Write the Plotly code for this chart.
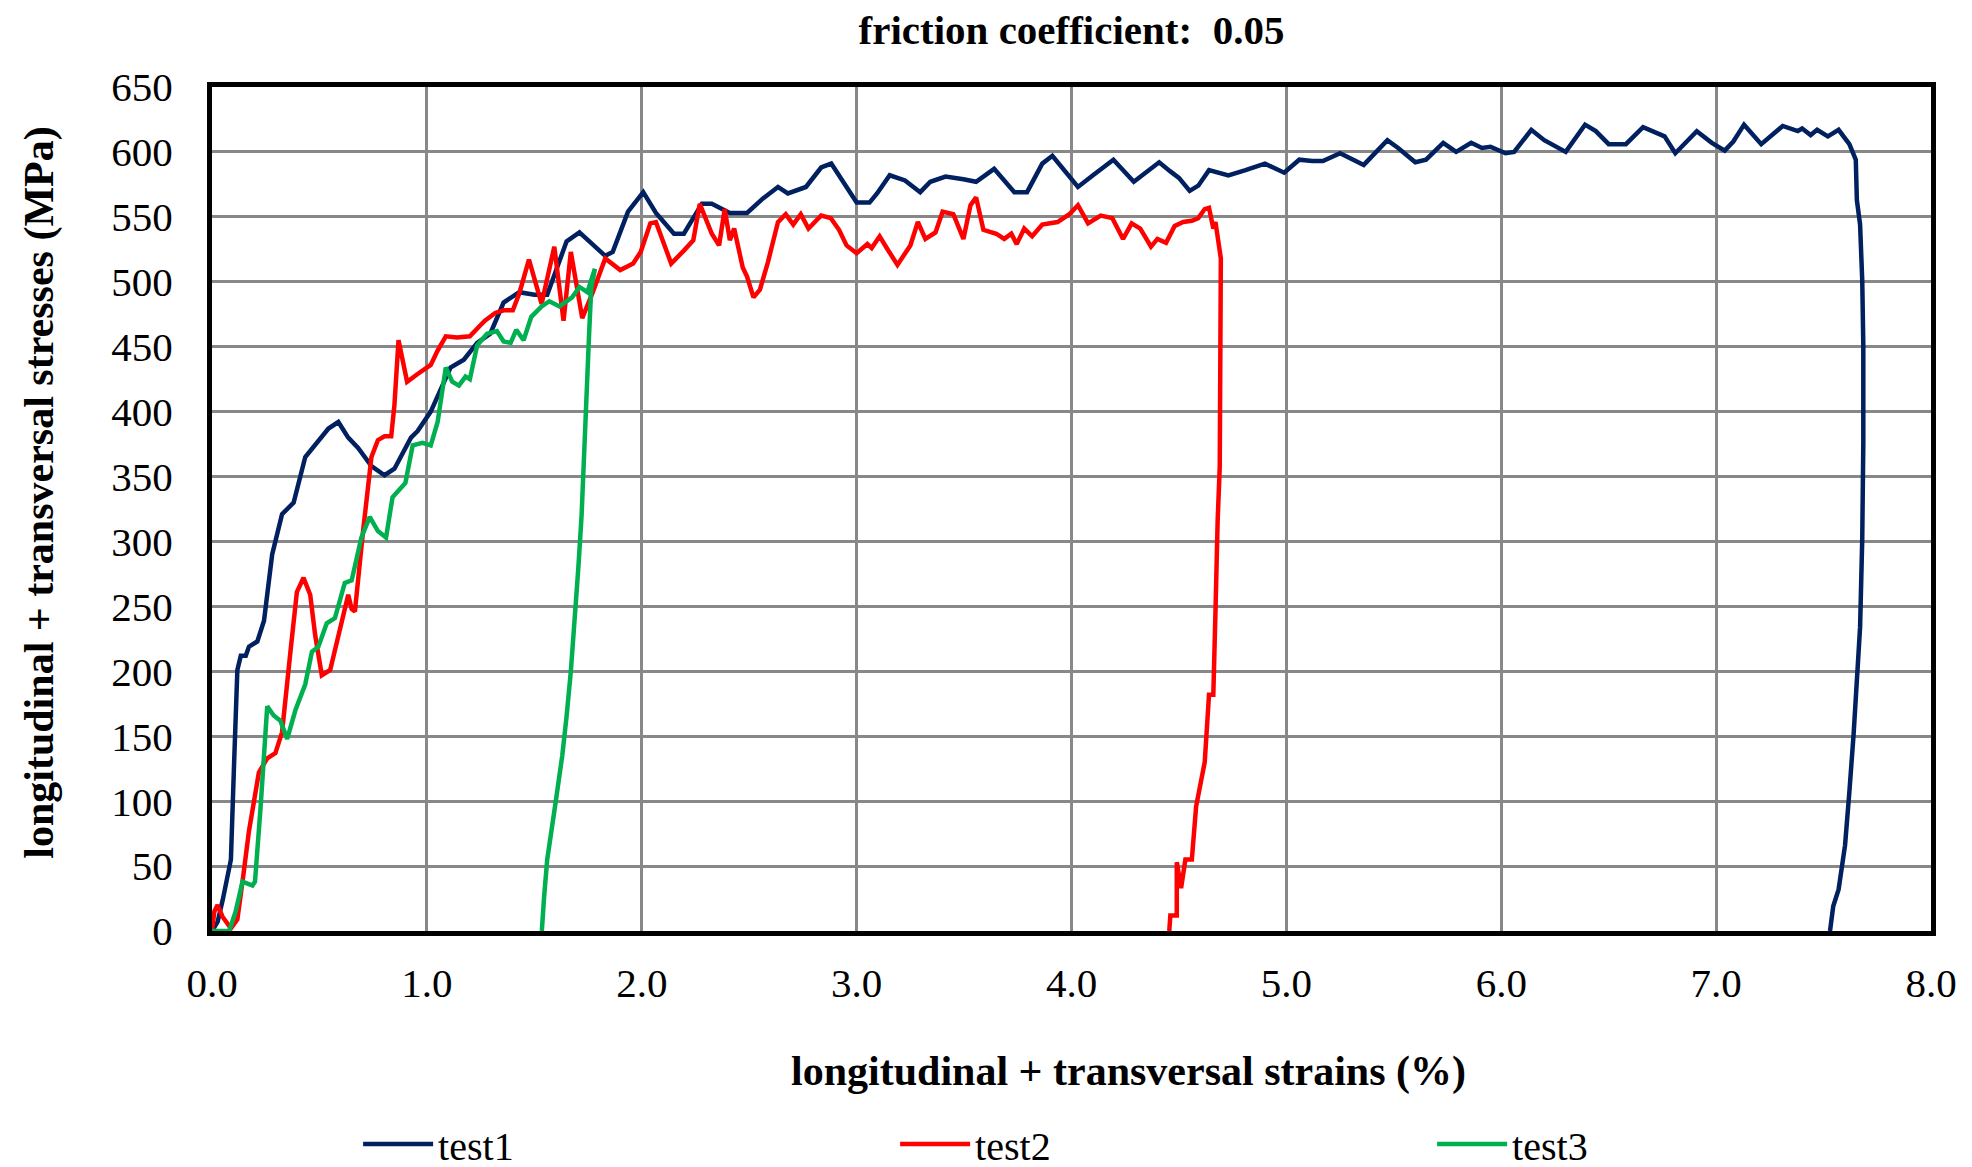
import plotly.graph_objects as go

# ---- data ----
test1_x = [0, 0.026, 0.05, 0.088, 0.103, 0.118, 0.134, 0.157, 0.172, 0.211, 0.242, 0.28, 0.326, 0.38, 0.434,
           0.48, 0.542, 0.588, 0.634, 0.68, 0.742, 0.803, 0.849, 0.926, 0.957, 1.018, 1.065, 1.11, 1.172, 1.234,
           1.295, 1.357, 1.43, 1.5, 1.56, 1.65, 1.71, 1.83, 1.865, 1.936, 2.007, 2.066, 2.15, 2.196, 2.28, 2.326,
           2.41, 2.49, 2.563, 2.634, 2.68, 2.764, 2.835, 2.882, 3.0, 3.06, 3.095, 3.154, 3.225, 3.296, 3.343,
           3.414, 3.497, 3.556, 3.64, 3.734, 3.793, 3.864, 3.911, 4.03, 4.1, 4.195, 4.29, 4.408, 4.46, 4.5, 4.55,
           4.59, 4.64, 4.73, 4.81, 4.9, 4.99, 5.06, 5.12, 5.17, 5.25, 5.36, 5.47, 5.52, 5.6, 5.65, 5.73, 5.79,
           5.86, 5.91, 5.95, 6.02, 6.06, 6.14, 6.2, 6.3, 6.39, 6.44, 6.5, 6.58, 6.66, 6.7, 6.76, 6.81, 6.91, 6.98,
           7.04, 7.08, 7.13, 7.21, 7.31, 7.38, 7.4, 7.44, 7.47, 7.52, 7.57, 7.62, 7.65, 7.655, 7.67, 7.68, 7.685,
           7.685, 7.68, 7.67, 7.656, 7.64, 7.62, 7.6, 7.57, 7.545, 7.53]
test1_y = [0, 7, 24, 55, 130, 201, 212, 212, 219, 223, 239, 290, 321, 330, 365,
           374, 387, 392, 380, 372, 358, 351, 356, 380, 385, 400, 418, 434, 440, 453,
           460, 484, 492, 490, 490, 531, 538, 520, 523, 554, 569, 553, 537, 537, 560, 560,
           553, 553, 564, 573, 568, 573, 588, 591, 561, 561, 568, 582, 578, 569, 577,
           581, 579, 577, 587, 569, 569, 591, 597, 573, 582, 594, 577, 592, 585, 580, 570,
           574, 586, 582, 586, 591, 584, 594, 593, 593, 599, 590, 609, 603, 592, 594, 607, 600,
           607, 603, 604, 599, 600, 617, 609, 600, 621, 616, 606, 606, 619, 616, 612, 599, 616, 607,
           601, 608, 621, 606, 620, 616, 618, 613, 617, 612, 617, 606, 594, 563, 544, 501, 451,
           376, 302, 234, 189, 152, 107, 66, 32, 19, 0]

test2_x = [0, 0.011, 0.026, 0.049, 0.088, 0.118, 0.142, 0.172, 0.218, 0.257, 0.295, 0.326, 0.365, 0.395, 0.426,
           0.457, 0.48, 0.511, 0.55, 0.58, 0.634, 0.65, 0.665, 0.703, 0.742, 0.772, 0.803, 0.834, 0.849, 0.868,
           0.908, 0.957, 1.018, 1.05, 1.088, 1.14, 1.2, 1.24, 1.27, 1.318, 1.357, 1.40, 1.43, 1.475, 1.534, 1.593,
           1.636, 1.67, 1.723, 1.77, 1.83, 1.9, 1.96, 1.995, 2.04, 2.066, 2.137, 2.196, 2.24, 2.27, 2.326, 2.36,
           2.386, 2.41, 2.43, 2.47, 2.49, 2.52, 2.55, 2.587, 2.634, 2.67, 2.705, 2.74, 2.776, 2.835, 2.88, 2.918,
           2.953, 3.0, 3.05, 3.07, 3.107, 3.14, 3.19, 3.25, 3.285, 3.32, 3.367, 3.4, 3.45, 3.497, 3.53, 3.556,
           3.59, 3.65, 3.687, 3.72, 3.745, 3.78, 3.817, 3.864, 3.935, 3.99, 4.03, 4.077, 4.136, 4.19, 4.24, 4.28,
           4.32, 4.37, 4.4, 4.44, 4.48, 4.52, 4.56, 4.59, 4.62, 4.64, 4.66, 4.67, 4.69, 4.695, 4.69, 4.68, 4.67,
           4.66, 4.64, 4.63, 4.62, 4.58, 4.56, 4.53, 4.51, 4.49, 4.49, 4.46, 4.455]
test2_y = [0, 15, 20, 11, 2, 9, 38, 77, 122, 133, 137, 153, 215, 261, 272,
           259, 228, 197, 201, 223, 259, 248, 246, 308, 365, 378, 381, 381, 405, 455,
           423, 429, 436, 447, 458, 457, 458, 465, 470, 476, 478, 478, 491, 517, 483, 527,
           470, 523, 472, 491, 518, 509, 514, 523, 545, 546, 514, 524, 532, 560, 537, 528,
           556, 532, 541, 511, 504, 488, 494, 515, 546, 552, 544, 552, 541, 551, 549, 540,
           528, 522, 529, 526, 535, 526, 513, 528, 546, 533, 538, 554, 552, 533, 559, 565,
           540, 537, 533, 537, 529, 541, 535, 544, 546, 552, 559, 545, 551, 549, 533, 545,
           541, 527, 533, 530, 543, 546, 547, 549, 556, 557, 541, 546, 522, 518, 358, 315, 246,
           182, 182, 148, 130, 96, 55, 55, 33, 53, 12, 12, 0]

test3_x = [0, 0.034, 0.08, 0.11, 0.142, 0.188, 0.2, 0.226, 0.257, 0.287, 0.318, 0.35, 0.388, 0.434, 0.465,
           0.495, 0.534, 0.572, 0.618, 0.65, 0.695, 0.734, 0.772, 0.81, 0.84, 0.9, 0.934, 0.98, 1.018, 1.05,
           1.072, 1.088, 1.118, 1.149, 1.18, 1.2, 1.234, 1.28, 1.326, 1.357, 1.39, 1.416, 1.45, 1.486, 1.534,
           1.57, 1.617, 1.676, 1.71, 1.747, 1.782, 1.765, 1.755, 1.745, 1.735, 1.72, 1.705, 1.69, 1.67, 1.65,
           1.63, 1.6, 1.58, 1.56, 1.545, 1.535]
test3_y = [0, 0, 0, 15, 38, 35, 38, 95, 173, 166, 162, 148, 170, 190, 215,
           219, 237, 241, 268, 270, 303, 319, 308, 303, 334, 345, 374, 376, 374, 392,
           420, 434, 423, 420, 427, 425, 451, 460, 462, 454, 453, 463, 455, 473, 481,
           485, 481, 488, 496, 492, 510, 495, 460, 420, 370, 320, 280, 240, 200, 165,
           135, 100, 80, 55, 25, 0]

series_names = ["test1", "test2", "test3"]
series_colors = ["#002060", "#FF0000", "#00B050"]
x_ticks = [0, 1, 2, 3, 4, 5, 6, 7, 8]
y_ticks = list(range(0, 651, 50))

title_text = "friction coefficient:  0.05"
x_title = "longitudinal + transversal strains (%)"
y_title = "longitudinal + transversal stresses (MPa)"

FONT = "Liberation Serif, Times New Roman, serif"

fig = go.Figure()
for name, xs, ys, col in zip(series_names, [test1_x, test2_x, test3_x], [test1_y, test2_y, test3_y], series_colors):
    fig.add_trace(go.Scatter(x=xs, y=ys, mode="lines", name=name,
                             line=dict(color=col, width=4.5)))

fig.update_layout(
    width=1972, height=1167,
    paper_bgcolor="white", plot_bgcolor="white",
    margin=dict(l=204, r=49, t=79, b=244, autoexpand=False),
    font=dict(family=FONT, color="black", size=40),
    title=dict(text="<b>" + title_text + "</b>", x=0.5, xref="paper", y=1 - 22 / 1167,
               yref="container", yanchor="middle", xanchor="center",
               font=dict(family=FONT, size=41, color="black")),
    legend=dict(orientation="h", x=0.085, xanchor="left", y=1 - 1136 / 1167, yref="container",
                yanchor="middle", entrywidth=452, entrywidthmode="pixels", itemwidth=70,
                font=dict(family=FONT, size=40, color="black")),
    showlegend=True,
    annotations=[
        dict(text="<b>" + x_title + "</b>", xref="paper", yref="paper", x=0.533, y=-0.1668,
             xanchor="center", yanchor="middle", showarrow=False,
             font=dict(family=FONT, size=42, color="black")),
        dict(text="<b>" + y_title + "</b>", xref="paper", yref="paper", x=-0.1005, y=0.5195,
             xanchor="center", yanchor="middle", showarrow=False, textangle=-90,
             font=dict(family=FONT, size=42, color="black")),
    ],
)

fig.update_xaxes(
    range=[0, 8], tickmode="array", tickvals=x_ticks,
    ticktext=[f"{v:.1f}" for v in x_ticks],
    showgrid=True, gridcolor="#888888", gridwidth=2.5,
    showline=True, linecolor="black", linewidth=5, mirror=True,
    ticks="outside", ticklen=12, tickcolor="rgba(0,0,0,0)",
    tickfont=dict(family=FONT, size=41, color="black"),
    zeroline=False,
)
fig.update_yaxes(
    range=[0, 650], tickmode="array", tickvals=y_ticks,
    showgrid=True, gridcolor="#888888", gridwidth=2.5,
    showline=True, linecolor="black", linewidth=5, mirror=True,
    ticks="outside", ticklen=26, tickcolor="rgba(0,0,0,0)",
    tickfont=dict(family=FONT, size=41, color="black"),
    zeroline=False,
)

fig.write_html("out.html")
